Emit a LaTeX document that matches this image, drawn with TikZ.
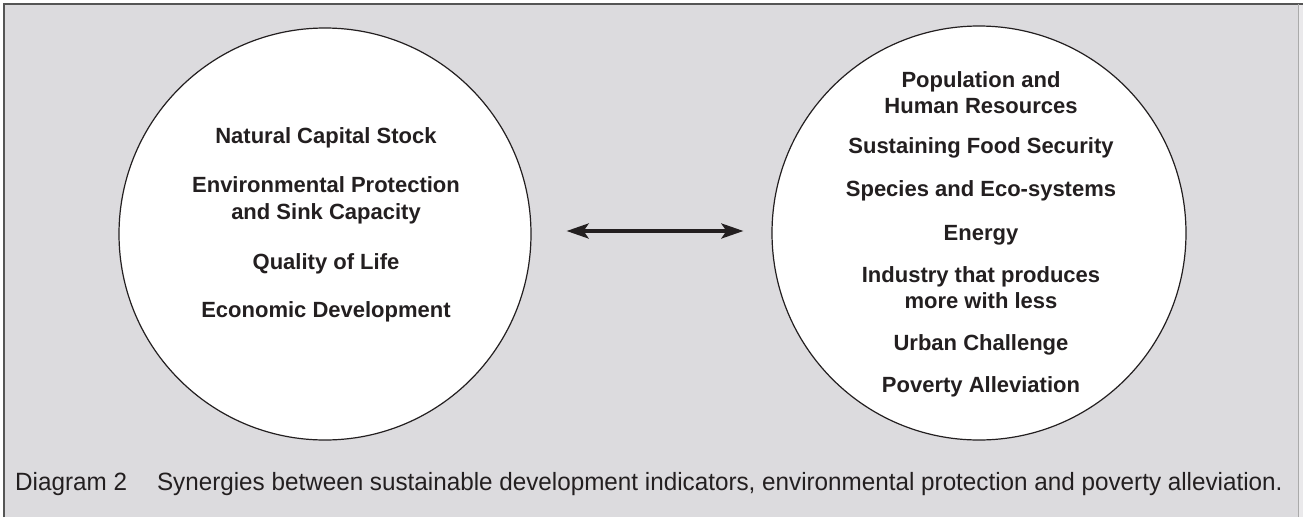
\documentclass[tikz,border=0pt]{standalone}
\usepackage{fontspec}
\setmainfont{Liberation Sans}
\newfontfamily\capfont[FakeStretch=0.97]{Liberation Sans}
\usetikzlibrary{arrows.meta}
\definecolor{bg}{HTML}{DCDBDE}
\definecolor{ink}{HTML}{231F20}
\definecolor{framec}{HTML}{555555}
\begin{document}
\begin{tikzpicture}[x=1pt,y=-1pt,
  item/.style={anchor=base, inner sep=0pt, font=\fontsize{22}{26}\selectfont\bfseries, text=ink},
  captionstyle/.style={anchor=base west, inner sep=0pt, font=\capfont\fontsize{25}{28}\selectfont, text=ink},
  bubble/.style={circle, draw=ink, line width=1.2pt, fill=white, inner sep=0pt},
  link/.style={draw=ink, line width=3.5pt, {Stealth[length=22pt,width=15pt,inset=5pt]}-{Stealth[length=22pt,width=15pt,inset=5pt]}}]
\useasboundingbox (0,0) rectangle (1303,517);
\fill[bg!60] (1298,4) rectangle (1303,517);
\fill[bg] (4,4) rectangle (1298,517);
\draw[framec, line width=1.5pt] (4,517) -- (4,4) -- (1303,4);
\draw[framec!50, line width=0.8pt] (1298,4) -- (1298,517);

\node[bubble, minimum size=412pt] (L) at (325,234) {};
\node[bubble, minimum size=414pt] (R) at (979,233) {};

\draw[link] ([xshift=35pt,yshift=3pt]L.east) -- ([xshift=-28pt,yshift=2pt]R.west);

% left circle
\node[item] (l1) at (326,143) {Natural Capital Stock};
\node[item] (l2) at (326,192) {Environmental Protection};
\node[item] (l3) at (326,219) {and Sink Capacity};
\node[item] (l4) at (326,269) {Quality of Life};
\node[item] (l5) at (326,317) {Economic Development};

% right circle
\node[item] (r1) at (981,87) {Population and};
\node[item] (r2) at (981,113) {Human Resources};
\node[item] (r3) at (981,153) {Sustaining Food Security};
\node[item] (r4) at (981,196) {Species and Eco-systems};
\node[item] (r5) at (981,240) {Energy};
\node[item] (r6) at (981,282) {Industry that produces};
\node[item] (r7) at (981,308) {more with less};
\node[item] (r8) at (981,350) {Urban Challenge};
\node[item] (r9) at (981,392) {Poverty Alleviation};

\node[captionstyle] (cap) at (15,490) {Diagram 2\hspace{30pt}Synergies between sustainable development indicators, environmental protection and poverty alleviation.};
\end{tikzpicture}
\end{document}
